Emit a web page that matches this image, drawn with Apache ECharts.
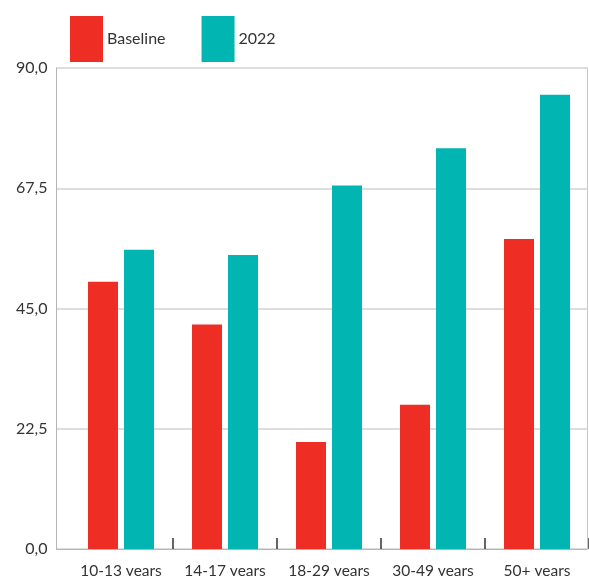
<!DOCTYPE html>
<html>
<head>
<meta charset="utf-8">
<script src="https://cdn.jsdelivr.net/npm/echarts@6/dist/echarts.min.js"></script>
<style>
  html, body { margin: 0; padding: 0; background: #fff; }
  #chart { width: 589px; height: 576px; }
</style>
</head>
<body>
<div id="chart"></div>
<script>
// Age groups on the category axis
const categories = ['10-13 years', '14-17 years', '18-29 years', '30-49 years', '50+ years'];
// Series values
const baseline = [50, 42, 20, 27, 58];
const year2022 = [56, 55, 68, 75, 85];
// Value axis range and step
const yMin = 0;
const yMax = 90;
const yStep = 22.5;

const RED = '#EE2D24';
const TEAL = '#00B5B2';
const FONT = 'Lato, "Noto Sans", sans-serif';

const chart = echarts.init(document.getElementById('chart'), null, { renderer: 'canvas' });

chart.setOption({
  animation: false,
  backgroundColor: '#fff',
  textStyle: { fontFamily: FONT },
  legend: {
    left: 70,
    top: 16,
    padding: 0,
    icon: 'rect',
    itemWidth: 33,
    itemHeight: 46,
    itemGap: 36,
    textStyle: { fontFamily: FONT, fontSize: 16, color: '#333', padding: [8, 0, 0, -1] },
    data: ['Baseline', '2022']
  },
  grid: [
    // frame with value gridlines
    { left: 56.5, right: 2, top: 68, bottom: 27, containLabel: false, outerBoundsMode: 'none' },
    // bars
    { left: 69, right: 0, top: 68, bottom: 27, containLabel: false, outerBoundsMode: 'none' }
  ],
  xAxis: [
    {
      gridIndex: 0, type: 'value', min: 0, max: 1,
      axisLine: { show: true, onZero: false, lineStyle: { color: '#b5b5b5', width: 1 } },
      axisTick: { show: false }, axisLabel: { show: false }, splitLine: { show: false }
    },
    {
      gridIndex: 1, type: 'category', data: categories, boundaryGap: true,
      axisLine: { show: false },
      axisTick: {
        show: true, inside: true, length: 11,
        interval: (i) => i !== 0,
        lineStyle: { color: '#333', width: 1.5 }
      },
      axisLabel: {
        fontFamily: FONT, fontSize: 15.5, color: '#333', margin: 14,
        interval: 0, hideOverlap: false
      }
    }
  ],
  yAxis: [
    {
      gridIndex: 0, type: 'value', min: yMin, max: yMax, interval: yStep,
      axisLine: { show: true, lineStyle: { color: '#b5b5b5', width: 1 } },
      axisTick: { show: false },
      axisLabel: {
        fontFamily: FONT, fontSize: 16, color: '#333', margin: 9,
        padding: [6, 0, 0, 0],
        formatter: (v) => v.toFixed(1).replace('.', ',')
      },
      splitLine: { show: true, lineStyle: { color: '#d2d2d2', width: 1.5 } }
    },
    {
      gridIndex: 0, type: 'value', position: 'right', min: yMin, max: yMax, interval: yStep,
      axisLine: { show: true, lineStyle: { color: '#c8c8c8', width: 1 } },
      axisTick: { show: false }, axisLabel: { show: false }, splitLine: { show: false }
    },
    {
      gridIndex: 1, type: 'value', min: yMin, max: yMax, interval: yStep, show: false
    }
  ],
  series: [
    {
      name: 'Baseline', type: 'bar', xAxisIndex: 1, yAxisIndex: 2,
      data: baseline, barWidth: 30, barGap: '20%',
      itemStyle: { color: RED }
    },
    {
      name: '2022', type: 'bar', xAxisIndex: 1, yAxisIndex: 2,
      data: year2022, barWidth: 30, barGap: '20%',
      itemStyle: { color: TEAL }
    }
  ]
});
</script>
</body>
</html>
